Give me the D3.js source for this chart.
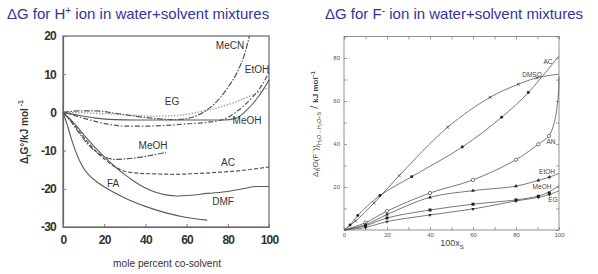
<!DOCTYPE html>
<html><head><meta charset="utf-8">
<script src="https://cdn.jsdelivr.net/npm/d3@7"></script>
<style>
html,body{margin:0;padding:0;background:#fff;}
svg{display:block;font-family:"Liberation Sans",Arial,sans-serif;}
</style></head>
<body>
<svg id="c" width="598" height="274"></svg>
<script>
// ---------- LEFT chart data (H+ ion) ----------
const leftXTicks = [0, 20, 40, 60, 80, 100];
const leftYTicks = [20, 10, 0, -10, -20, -30];
const hMeCN = [[0,0],[8,0.4],[16,0.4],[25,-0.2],[35,-1],[45,-1.6],[55,-1.9],[62,-1.4],[68,0],[74,2.5],[80,6.5],[85,11],[88,15],[90.5,20]];
const hEtOH = [[0,0],[8,-1.2],[16,-2.4],[24,-3.3],[30,-3.6],[40,-3.6],[50,-3.4],[60,-3],[70,-2.6],[78,-1.8],[85,0.5],[92,4],[97,7.5],[100,10.5]];
const hEG = [[0,0],[15,-0.2],[30,-0.6],[45,-1],[55,-0.8],[65,0],[75,1.2],[85,3],[93,4.8],[100,6.6]];
const hMeOH = [[0,0],[8,-0.8],[16,-1.5],[25,-1.9],[35,-2],[50,-2],[65,-2],[78,-2],[84,-1.5],[88,0],[92,2.2],[96,5],[100,8.5]];
const hMeOH2 = [[0,0],[4,-2.5],[8,-5.5],[12,-8.3],[16,-10.3],[20,-11.6],[25,-12.3],[30,-12.2],[38,-11.7],[45,-11],[50,-10.5]];
const hAC = [[0,0],[5,-3],[10,-6.5],[15,-9.6],[20,-12.2],[25,-14.2],[30,-15.4],[36,-15.9],[45,-16.1],[55,-16.2],[65,-16],[75,-15.7],[85,-15.3],[93,-14.8],[100,-14.3]];
const hDMF = [[0,0],[5,-2.6],[10,-5.8],[15,-8.8],[20,-11.6],[25,-14.1],[30,-16.3],[35,-18.2],[40,-19.8],[45,-20.9],[50,-21.6],[55,-21.9],[62,-21.7],[70,-21.2],[80,-20.7],[88,-19.9],[94,-19.4],[100,-19.4]];
const hFA = [[0,0],[2,-3.2],[4,-6.8],[6,-10],[8,-12.6],[10,-14.6],[13,-16.6],[17,-18.4],[22,-20.1],[30,-22.4],[40,-24.6],[50,-26.3],[60,-27.5],[70,-28.2]];

// ---------- RIGHT chart data (F- ion) ----------
const rightXTicks = [0, 20, 40, 60, 80, 100];
const rightYTicks = [20, 40, 60, 80];
const fDMSOpts = [[5.4,4.2],[14,12.6],[25.7,25.3],[48.2,47.8],[67.9,61.7],[81.1,67.8],[89.8,70.8]];
const fDMSO = [[0,0],[5.4,4.2],[14,12.6],[25.7,25.3],[48.2,47.8],[67.9,61.7],[81.1,67.8],[89.8,70.8],[100,72.5]];
const fACpts = [[2.8,2.3],[6.4,6.8],[16.7,16],[31.5,24.8],[55,38.6],[73.3,52.4],[85.7,63.9]];
const fAC = [[0,0],[2.8,2.3],[6.4,6.8],[16.7,16],[31.5,24.8],[55,38.6],[73.3,52.4],[85.7,63.9],[100,81]];
const fANpts = [[10,3.4],[20,8.8],[40,17.2],[60,23.3],[80,32.7],[90.4,39.9],[95.3,43.7]];
const fAN = [[0,0],[10,3.4],[20,8.8],[40,17.2],[60,23.3],[80,32.7],[90.4,39.9],[95.3,43.7],[97.8,50],[99.2,58],[99.8,65],[100,71.5]];
const fEtOHpts = [[10,2.5],[20,7.2],[40,15.2],[60,18.3],[80,20.4],[90.4,23.1],[95.5,24.6]];
const fEtOH = [[0,0],[10,2.5],[20,7.2],[40,15.2],[60,18.3],[80,20.4],[90.4,23.1],[95.5,24.6],[100,26.3]];
const fMeOHpts = [[10,2],[20,5.6],[40,9.3],[60,12],[80,14],[90.4,15.7],[95.5,17.2]];
const fMeOH = [[0,0],[10,2],[20,5.6],[40,9.3],[60,12],[80,14],[90.4,15.8],[95.5,17.8],[100,20.7]];
const fEGpts = [[10,1.2],[20,3.9],[40,7],[60,9.8],[80,13.5],[90.4,15.2],[95.5,16.5]];
const fEG = [[0,0],[10,1.2],[20,3.9],[40,7],[60,9.8],[80,13.5],[90.4,15.2],[95.5,16.5],[100,18.2]];

const svg = d3.select("#c");
const blue = "#34349c";

// Titles
svg.append("text").attr("x",7).attr("y",19).attr("font-size",15).attr("fill",blue)
  .html('ΔG for H<tspan font-size="10" dy="-5">+</tspan><tspan dy="5"> ion in water+solvent mixtures</tspan>');
svg.append("text").attr("x",325).attr("y",19).attr("font-size",15).attr("fill",blue)
  .html('ΔG for F<tspan font-size="10" dy="-5">-</tspan><tspan dy="5"> ion in water+solvent mixtures</tspan>');

// ================= LEFT =================
const xL = d3.scaleLinear().domain([0,100]).range([63,269]);
const yL = d3.scaleLinear().domain([-30,20]).range([227,36]);
const gL = svg.append("g");
gL.append("rect").attr("x",xL(0)).attr("y",yL(20)).attr("width",xL(100)-xL(0)).attr("height",yL(-30)-yL(20))
  .attr("fill","none").attr("stroke","#666").attr("stroke-width",1.2);
const axL = gL.append("g").attr("transform",`translate(${xL(0)},0)`)
  .call(d3.axisLeft(yL).tickValues(leftYTicks).tickSizeInner(-3).tickSizeOuter(0).tickPadding(7).tickFormat(d=>String(d)));
const axB = gL.append("g").attr("transform",`translate(0,${yL(-30)})`)
  .call(d3.axisBottom(xL).tickValues(leftXTicks).tickSizeInner(-3).tickSizeOuter(0).tickPadding(8));
[axL,axB].forEach(a=>{
  a.select(".domain").attr("stroke","#666").attr("stroke-width",1.2);
  a.selectAll(".tick line").attr("stroke","#777");
  a.selectAll(".tick text").attr("font-size",12).attr("font-weight","bold").attr("fill","#333")
    .attr("font-family","'Liberation Sans',Arial,sans-serif").attr("letter-spacing",-0.8);
});
gL.append("text").attr("x",167).attr("y",267).attr("text-anchor","middle").attr("font-size",11)
  .attr("fill","#333").attr("textLength",108).attr("lengthAdjust","spacingAndGlyphs").text("mole percent co-solvent");
gL.append("text").attr("transform","translate(28,132) rotate(-90)").attr("text-anchor","middle")
  .attr("font-size",10).attr("font-weight","bold").attr("fill","#333")
  .html('Δ<tspan font-size="7" dy="3">t</tspan><tspan dy="-3">G°/kJ mol</tspan><tspan font-size="7" dy="-5"> -1</tspan>');

const lineL = d3.line().x(d=>xL(d[0])).y(d=>yL(d[1])).curve(d3.curveMonotoneX);
const leftSeries = [
  {d:hEG, c:"#a0a0a0", w:1.3, dash:"1.5,1.5"},
  {d:hMeCN, c:"#555", w:1.2, dash:"6,1.5,1.5,1.5"},
  {d:hEtOH, c:"#555", w:1.2, dash:"5,2,1.5,2"},
  {d:hMeOH, c:"#5a5a5a", w:1.1, dash:null},
  {d:hMeOH2, c:"#555", w:1.2, dash:"6,1.5,1.5,1.5"},
  {d:hAC, c:"#555", w:1.2, dash:"4,2"},
  {d:hDMF, c:"#5a5a5a", w:1.1, dash:null},
  {d:hFA, c:"#5a5a5a", w:1.1, dash:null}
];
leftSeries.forEach(s=>{
  gL.append("path").attr("d",lineL(s.d)).attr("fill","none").attr("stroke",s.c)
    .attr("stroke-width",s.w).attr("stroke-dasharray",s.dash);
});
const leftLabels = [["MeCN",230,49],["EtOH",257,73],["EG",172,105],["MeOH",247,124],["MeOH",153,149],["AC",228,166],["FA",113,187],["DMF",223,205]];
leftLabels.forEach(l=>{
  gL.append("text").attr("x",l[1]).attr("y",l[2]).attr("text-anchor","middle").attr("font-size",10).attr("fill","#333").text(l[0]);
});

// ================= RIGHT =================
const xR = d3.scaleLinear().domain([0,100]).range([344,559]);
const yR = d3.scaleLinear().domain([0,90]).range([230,36.5]);
const gR = svg.append("g");
gR.append("rect").attr("x",xR(0)).attr("y",yR(90)).attr("width",xR(100)-xR(0)).attr("height",yR(0)-yR(90))
  .attr("fill","none").attr("stroke","#777").attr("stroke-width",0.8);
const minorX = d3.range(0,101,10), minorY = d3.range(0,91,10);
const tickStyle = a=>{ a.select(".domain").remove(); a.selectAll(".tick line").attr("stroke","#777").attr("stroke-width",0.7);
  a.selectAll(".tick text").attr("font-size",6).attr("fill","#555").attr("font-family","'Liberation Sans',Arial,sans-serif"); };
gR.append("g").attr("transform",`translate(0,${yR(0)})`)
  .call(d3.axisBottom(xR).tickValues(minorX).tickSizeInner(-3).tickSizeOuter(0).tickPadding(3).tickFormat(d=>rightXTicks.includes(d)?d:""))
  .call(tickStyle);
gR.append("g").attr("transform",`translate(0,${yR(90)})`)
  .call(d3.axisTop(xR).tickValues(minorX).tickSizeInner(-3).tickSizeOuter(0).tickFormat(""))
  .call(tickStyle);
gR.append("g").attr("transform",`translate(${xR(0)},0)`)
  .call(d3.axisLeft(yR).tickValues(minorY).tickSizeInner(-3).tickSizeOuter(0).tickPadding(4).tickFormat(d=>rightYTicks.includes(d)?d:""))
  .call(tickStyle);
gR.append("g").attr("transform",`translate(${xR(100)},0)`)
  .call(d3.axisRight(yR).tickValues(minorY).tickSizeInner(-3).tickSizeOuter(0).tickFormat(""))
  .call(tickStyle);

gR.append("text").attr("x",452).attr("y",246).attr("text-anchor","middle").attr("font-size",9).attr("fill","#444")
  .html('100x<tspan font-size="6" dy="3">S</tspan>');
gR.append("text").attr("transform","translate(318,124) rotate(-90)").attr("text-anchor","middle")
  .attr("font-size",8).attr("fill","#444")
  .html('Δ<tspan font-size="5.5" dy="2">t</tspan><tspan dy="-2">(G(F</tspan><tspan font-size="5.5" dy="-3">−</tspan><tspan dy="3">))</tspan><tspan font-size="5.5" dy="3">H₂O→H₂O+S</tspan><tspan dy="-3" font-size="11"> / </tspan><tspan font-weight="bold">kJ mol</tspan><tspan font-size="5.5" dy="-3" font-weight="bold">−1</tspan>');

const lineR = d3.line().x(d=>xR(d[0])).y(d=>yR(d[1])).curve(d3.curveCatmullRom.alpha(0.5));
[fDMSO,fAC,fAN,fEtOH,fMeOH,fEG].forEach(s=>{
  gR.append("path").attr("d",lineR(s)).attr("fill","none").attr("stroke","#555").attr("stroke-width",0.8);
});
const markerSets = [
  {d:fDMSOpts, t:d3.symbolX, s:7, fill:"none", stroke:"#333"},
  {d:fACpts, t:d3.symbolCircle, s:7, fill:"#222", stroke:"none"},
  {d:fANpts, t:d3.symbolCircle, s:9, fill:"#fff", stroke:"#444"},
  {d:fEtOHpts, t:d3.symbolTriangle, s:6, fill:"#222", stroke:"none"},
  {d:fMeOHpts, t:d3.symbolSquare, s:9, fill:"#222", stroke:"none"},
  {d:fEGpts, t:d3.symbolTriangle, s:5, fill:"#222", stroke:"none", rot:180}
];
markerSets.forEach(m=>{
  gR.selectAll(null).data(m.d).enter().append("path")
    .attr("transform",d=>`translate(${xR(d[0])},${yR(d[1])}) rotate(${m.rot||0})`)
    .attr("d",d3.symbol().type(m.t).size(m.s)).attr("fill",m.fill).attr("stroke",m.stroke).attr("stroke-width",0.7);
});
const rightLabels = [["AC",548,64],["DMSO",532,77],["AN",551,144],["EtOH",547,174],["MeOH",542,189],["EG",553,202]];
rightLabels.forEach(l=>{
  gR.append("text").attr("x",l[1]).attr("y",l[2]).attr("text-anchor","middle").attr("font-size",6.5).attr("fill","#444").text(l[0]);
});
</script>
</body></html>
